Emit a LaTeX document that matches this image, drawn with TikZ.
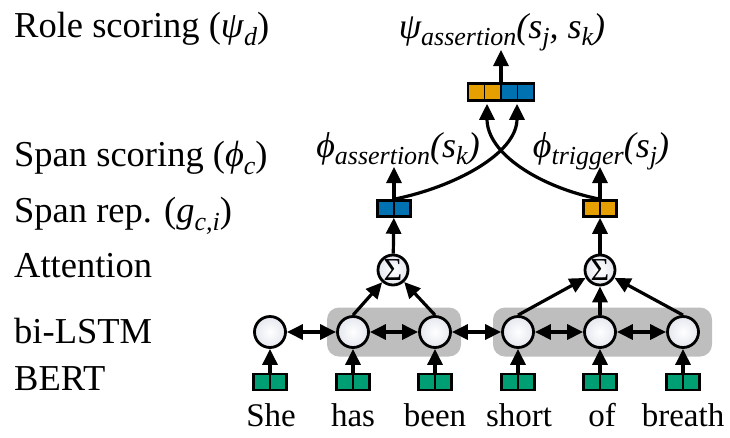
\documentclass[tikz,border=0pt]{standalone}
\usepackage{fontspec}
\setmainfont{Liberation Serif}
\usetikzlibrary{arrows.meta,calc}
\definecolor{corange}{HTML}{E69F00}
\definecolor{cblue}{HTML}{0072B2}
\definecolor{cgreen}{HTML}{009E73}
\definecolor{cgray}{HTML}{BEBEBE}
\definecolor{cshade}{HTML}{E4E7EE}
\newcommand\mysub[1]{\raisebox{-0.22em}{\fontsize{26}{26}\selectfont\itshape #1}}
\begin{document}
\begin{tikzpicture}[x=1pt,y=-1pt,
  lbl/.style={anchor=base west,font=\fontsize{36.5}{40}\selectfont,inner sep=0},
  word/.style={anchor=base,font=\fontsize{33}{36}\selectfont,inner sep=0},
  score/.style={anchor=base,font=\fontsize{36}{40}\selectfont\itshape,inner sep=0},
  lstm/.style={circle,draw,line width=2.8pt,inner color=white,outer color=cshade,minimum size=31pt,inner sep=0},
  sig/.style={circle,draw,line width=2.8pt,inner color=white,outer color=cshade,minimum size=30pt,inner sep=0,font=\fontsize{32}{32}\selectfont},
  vec/.style={draw,line width=2.6pt,minimum width=33pt,minimum height=16pt,inner sep=0,
    path picture={\draw[line width=1.8pt] (path picture bounding box.north) -- (path picture bounding box.south);}},
  arr/.style={line width=3.2pt,-{Triangle[length=16pt,width=15pt]}},
  darr/.style={line width=3.2pt,{Triangle[length=16pt,width=15pt]}-{Triangle[length=16pt,width=15pt]}},
  grp/.style={fill=cgray,rounded corners=12pt,inner sep=0},
]
\useasboundingbox (0,0) rectangle (730,437);
% left labels
\node[lbl] (l1) at (14,37) {Role scoring (\textit{ψ}\mysub{d})};
\node[lbl] (l2) at (14,166) {Span scoring (\textit{ϕ}\mysub{c})};
\node[lbl] (l3) at (14,222) {Span rep. (\textit{g}\mysub{c,i})};
\node[lbl] (l4) at (14,277) {Attention};
\node[lbl] (l5) at (14,343) {bi-LSTM};
\node[lbl] (l6) at (14,390) {BERT};
% groups
\node[grp,minimum width=134pt,minimum height=49pt] (g1) at (394,332) {};
\node[grp,minimum width=219pt,minimum height=49pt] (g2) at (602.5,332) {};
% lstm cells
\node[lstm] (c1) at (270,332) {};
\node[lstm] (c2) at (353,332) {};
\node[lstm] (c3) at (435,332) {};
\node[lstm] (c4) at (518,332) {};
\node[lstm] (c5) at (600,332) {};
\node[lstm] (c6) at (683,332) {};
% bert
\node[vec,fill=cgreen] (b1) at (270,382) {};
\node[vec,fill=cgreen] (b2) at (353,382) {};
\node[vec,fill=cgreen] (b3) at (435,382) {};
\node[vec,fill=cgreen] (b4) at (518,382) {};
\node[vec,fill=cgreen] (b5) at (600,382) {};
\node[vec,fill=cgreen] (b6) at (683,382) {};
% words
\node[word] (w1) at (271,426) {She};
\node[word] (w2) at (353,426) {has};
\node[word] (w3) at (435,426) {been};
\node[word] (w4) at (519,426) {short};
\node[word] (w5) at (602,426) {of};
\node[word] (w6) at (683,426) {breath};
\foreach \i in {1,...,6}{\draw[arr] (b\i) -- (c\i);}
\draw[darr] (c1) -- (c2);
\draw[darr] (c2) -- (c3);
\draw[darr] (c3) -- (c4);
\draw[darr] (c4) -- (c5);
\draw[darr] (c5) -- (c6);
% attention
\node[sig] (s1) at (393,270) {Σ};
\node[sig] (s2) at (600,270) {Σ};
\draw[arr] (c2.north) -- (s1);
\draw[arr] (c3.north) -- (s1);
\draw[arr] (c4.north) -- (s2);
\draw[arr] (c5) -- (s2);
\draw[arr] (c6.north) -- (s2);
% span reps
\node[vec,fill=cblue] (r1) at (394,208.5) {};
\node[vec,fill=corange] (r2) at (600,208.5) {};
\draw[arr] (s1) -- (r1);
\draw[arr] (s2) -- (r2);
% span scores
\coordinate (p1) at (394,167);
\coordinate (p2) at (600,167);
\draw[arr] (r1.north) -- (p1);
\draw[arr] (r2.north) -- (p2);
\node[score] (t1) at (398,157) {ϕ\mysub{assertion}(s\mysub{k})};
\node[score] (t2) at (601,157) {ϕ\mysub{trigger}(s\mysub{j})};
% role box
\node[draw,line width=2.6pt,minimum width=66pt,minimum height=17pt,inner sep=0,fill=corange,
  path picture={
    \fill[cblue] (path picture bounding box.north) rectangle (path picture bounding box.south east);
    \draw[line width=1.8pt] ($(path picture bounding box.north west)!0.25!(path picture bounding box.north east)$) -- ($(path picture bounding box.south west)!0.25!(path picture bounding box.south east)$);
    \draw[line width=1.8pt] (path picture bounding box.north) -- (path picture bounding box.south);
    \draw[line width=1.8pt] ($(path picture bounding box.north west)!0.75!(path picture bounding box.north east)$) -- ($(path picture bounding box.south west)!0.75!(path picture bounding box.south east)$);
  }] (top) at (501,92) {};
\coordinate (tin1) at ($(top.south)+(-14,2)$);
\coordinate (tin2) at ($(top.south)+(16,2)$);
\draw[arr] (r1.north) .. controls +(60,-12) and +(0,50) .. (tin2);
\draw[arr] (r2.north) .. controls +(-60,-12) and +(0,50) .. (tin1);
\coordinate (pt) at (501,50);
\draw[arr] (top.north) -- (pt);
\node[score] (t0) at (502,38) {ψ\mysub{assertion}(s\mysub{j}, s\mysub{k})};
\end{tikzpicture}
\end{document}
